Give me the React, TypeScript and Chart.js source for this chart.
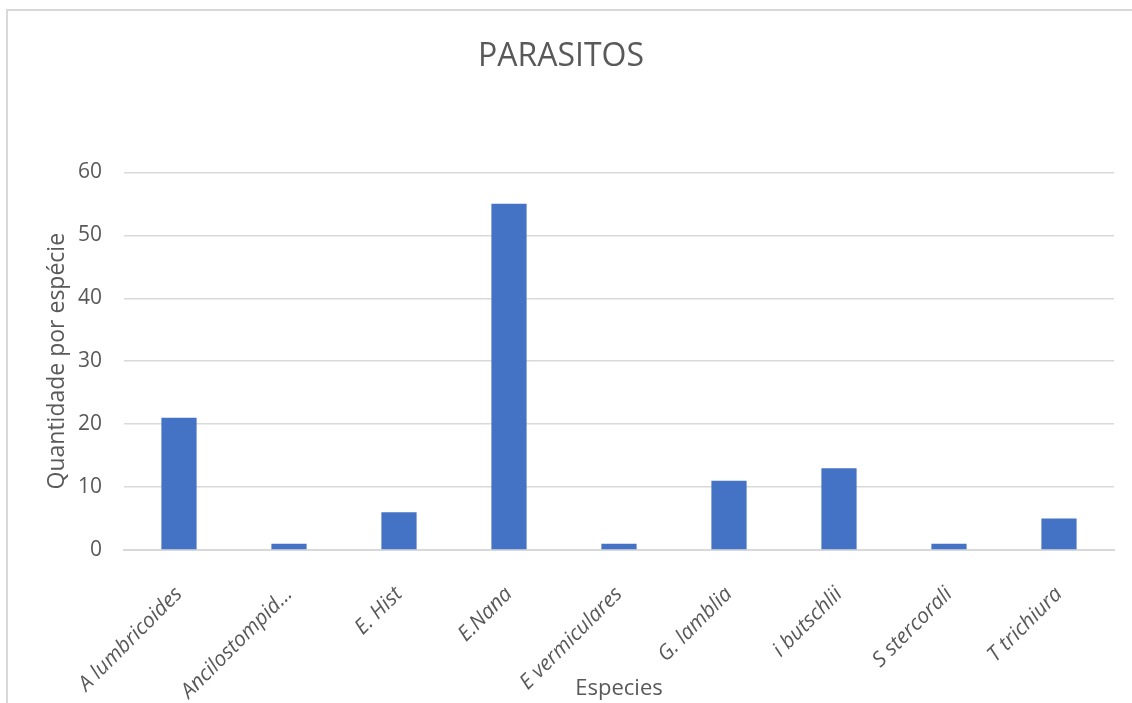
import React, { useEffect, useRef } from "react";
import { Chart, registerables } from "chart.js";

Chart.register(...registerables);

const categories = [
  "A lumbricoides",
  "Ancilostompid...",
  "E. Hist",
  "E.Nana",
  "E vermiculares",
  "G. lamblia",
  "i butschlii",
  "S stercorali",
  "T trichiura",
];
const values = [21, 1, 6, 55, 1, 11, 13, 1, 5];
const yTicks = [0, 10, 20, 30, 40, 50, 60];

const FONT = "'Open Sans', 'Noto Sans', sans-serif";
const TEXT = "#595959";
const GRID = "#d9d9d9";

export default function App() {
  const ref = useRef<HTMLCanvasElement | null>(null);

  useEffect(() => {
    if (!ref.current) return;
    const chart = new Chart(ref.current, {
      type: "bar",
      data: {
        labels: categories,
        datasets: [
          {
            label: "Quantidade",
            data: values,
            backgroundColor: "#4472C4",
            borderWidth: 0,
            categoryPercentage: 1,
            barPercentage: 0.32,
          },
        ],
      },
      options: {
        animation: false,
        responsive: false,
        maintainAspectRatio: false,
        layout: { padding: { left: 8, right: 18, top: 0, bottom: 0 } },
        plugins: {
          legend: { display: false },
          tooltip: { enabled: false },
          title: {
            display: true,
            text: "PARASITOS",
            color: TEXT,
            font: { family: FONT, size: 32, weight: "normal" },
            padding: { top: 38, bottom: 96 },
          },
        },
        scales: {
          x: {
            grid: { display: false, drawTicks: false },
            border: { display: true, color: GRID, width: 2 },
            ticks: {
              autoSkip: false,
              minRotation: 45,
              maxRotation: 45,
              padding: 32,
              color: TEXT,
              font: { family: FONT, size: 21, style: "italic" },
            },
            title: {
              display: true,
              text: "Especies",
              color: TEXT,
              font: { family: FONT, size: 22 },
              padding: { top: 0, bottom: 1 },
            },
            afterFit: (s: any) => {
              s.height = 153;
            },
          },
          y: {
            min: 0,
            max: 60,
            afterBuildTicks: (s: any) => {
              s.ticks = yTicks.map((v) => ({ value: v }));
            },
            grid: { color: GRID, lineWidth: 1.5, drawTicks: false },
            border: { display: false },
            ticks: {
              padding: 22,
              color: TEXT,
              font: { family: FONT, size: 21 },
            },
            title: {
              display: true,
              text: "Quantidade por espécie",
              color: TEXT,
              font: { family: FONT, size: 23 },
              padding: { top: 36, bottom: 0 },
            },
            afterFit: (s: any) => {
              s.width = 116;
            },
          },
        },
      },
    });
    return () => chart.destroy();
  }, []);

  return (
    <div
      style={{
        position: "absolute",
        left: 0,
        top: 0,
        width: 1132,
        height: 703,
        overflow: "hidden",
        background: "#fff",
      }}
    >
      <div
        style={{
          position: "absolute",
          left: 6,
          top: 9,
          width: 1140,
          height: 720,
          border: `2px solid ${GRID}`,
          boxSizing: "border-box",
        }}
      />
      <canvas
        ref={ref}
        width={1132}
        height={703}
        style={{ position: "absolute", left: 0, top: 0, width: 1132, height: 703 }}
      />
    </div>
  );
}
